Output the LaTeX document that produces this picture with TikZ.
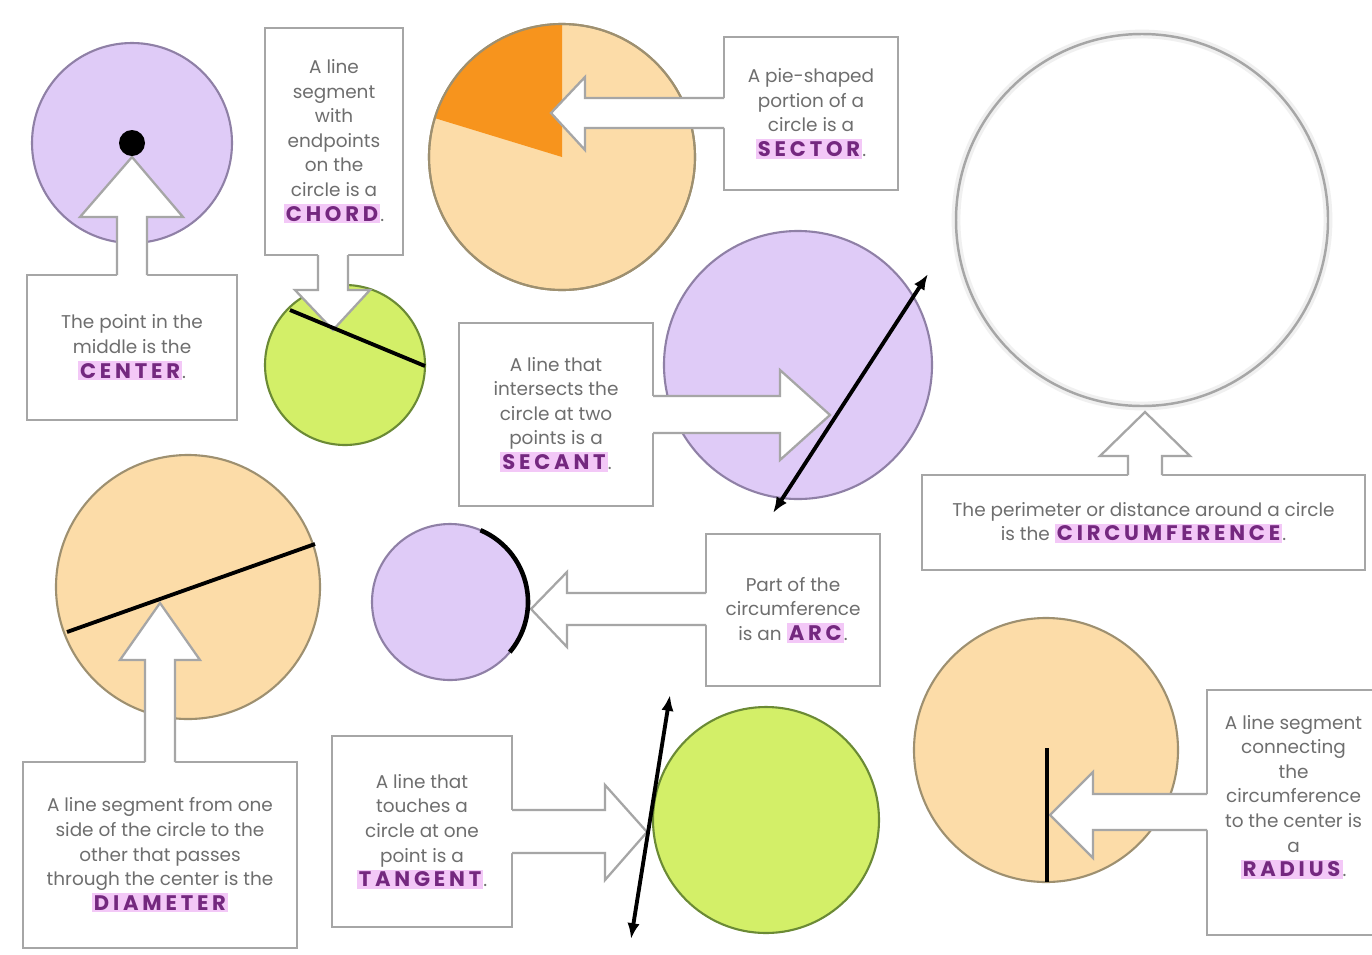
\documentclass[tikz,border=0pt]{standalone}
\usepackage{fontspec}
\usepackage{xcolor}
\usepackage{tikz}
\usetikzlibrary{arrows.meta}
\setmainfont{Poppins}
\newfontfamily\kwfont{Poppins}[LetterSpace=18]

\definecolor{lavender}{HTML}{DFCBF7}
\definecolor{lavenderline}{HTML}{8F80A6}
\definecolor{peach}{HTML}{FCDCA8}
\definecolor{peachline}{HTML}{9E9070}
\definecolor{pieorange}{HTML}{F7941D}
\definecolor{lime}{HTML}{D3EF68}
\definecolor{limeline}{HTML}{6B8A35}
\definecolor{boxgray}{HTML}{A6A6A6}
\definecolor{txtgray}{HTML}{6E6E6E}
\definecolor{kwpink}{HTML}{F3C8F7}
\definecolor{kwpurple}{HTML}{74287F}

\newcommand{\kw}[1]{{\setlength{\fboxsep}{1.2pt}\colorbox{kwpink}{\fontsize{12}{14}\kwfont\bfseries\color{kwpurple}#1}}}

\tikzset{
	infobox/.style={draw=boxgray, line width=1.6pt, fill=white, align=center,
		text=txtgray, font=\fontsize{10.5}{14}\selectfont, inner sep=0pt},
	infotext/.style={align=center, text=txtgray, font=\fontsize{10.5}{14}\selectfont},
	blockarrow/.style={draw=boxgray, line width=1.3pt, line join=miter},
	figline/.style={line width=2.2pt, black},
	purplecirc/.style={fill=lavender, draw=lavenderline, line width=1.2pt},
	peachcirc/.style={fill=peach, draw=peachline, line width=1.2pt},
	limecirc/.style={fill=lime, draw=limeline, line width=1.2pt}
}

\begin{document}
\begin{tikzpicture}[x=0.02cm, y=-0.02cm]

	\useasboundingbox[fill=white] (0,0) rectangle (1372,954);

	% circles
	\coordinate (o1) at (132,143);
	\coordinate (o2) at (345,365);
	\coordinate (o3) at (562,157);
	\coordinate (o4) at (1142,220);
	\coordinate (o5) at (798,365);
	\coordinate (o6) at (188,587);
	\coordinate (o7) at (450,602);
	\coordinate (o8) at (766,820);
	\coordinate (o9) at (1046,750);

	\draw[purplecirc] (o1) circle (100);
	\draw[limecirc] (o2) circle (80);
	\draw[peachcirc] (o3) circle (133);
	\fill[pieorange] (o3) -- ++(0,-133) arc[start angle=-90, end angle=-163, radius=133] -- cycle;
	\draw[peachline, line width=1.2pt] (o3) circle (133);
	\draw[line width=5pt, black!6] (o4) circle (186);
	\draw[line width=1.4pt, boxgray] (o4) circle (186);
	\draw[purplecirc] (o5) circle (134);
	\draw[peachcirc] (o6) circle (132);
	\draw[purplecirc] (o7) circle (78);
	\draw[limecirc] (o8) circle (113);
	\draw[peachcirc] (o9) circle (132);

	% boxes
	\node[infobox, minimum width=4.2cm, minimum height=2.9cm] (centerbox) at (132,347.5)
		{The point in the\\middle is the\\\kw{CENTER}.};
	\node[infobox, minimum width=2.76cm, minimum height=4.54cm] (chordbox) at (334,141.5)
		{A line\\segment\\with\\endpoints\\on the\\circle is a\\\kw{CHORD}.};
	\node[infobox, minimum width=3.48cm, minimum height=3.06cm] (sectorbox) at (811,113.5)
		{A pie-shaped\\portion of a\\circle is a\\\kw{SECTOR}.};
	\node[infobox, minimum width=8.86cm, minimum height=1.9cm] (circbox) at (1143.5,522.5)
		{The perimeter or distance around a circle\\is the \kw{CIRCUMFERENCE}.};
	\node[infobox, minimum width=3.88cm, minimum height=3.66cm] (secantbox) at (556,414.5)
		{A line that\\intersects the\\circle at two\\points is a\\\kw{SECANT}.};
	\node[infobox, minimum width=5.48cm, minimum height=3.72cm] (diambox) at (160,855)
		{A line segment from one\\side of the circle to the\\other that passes\\through the center is the\\\kw{DIAMETER}};
	\node[infobox, minimum width=3.48cm, minimum height=3.04cm] (arcbox) at (793,610)
		{Part of the\\circumference\\is an \kw{ARC}.};
	\node[infobox, minimum width=3.6cm, minimum height=3.82cm] (tanbox) at (422,831.5)
		{A line that\\touches a\\circle at one\\point is a\\\kw{TANGENT}.};
	\node[infobox, minimum width=3.46cm, minimum height=4.9cm] (radbox) at (1293.5,812.5) {};
	\node[infotext] (radtext) at (1293.5,797)
		{A line segment\\connecting\\the\\circumference\\to the center is\\a\\\kw{RADIUS}.};

	% block arrows
	\fill[white] (117,278) -- (117,217) -- (80,217) -- (132,157) -- (183,217) -- (147,217) -- (147,278) -- cycle;
	\draw[blockarrow] (117,275) -- (117,217) -- (80,217) -- (132,157) -- (183,217) -- (147,217) -- (147,275);

	\fill[white] (318,252) -- (318,290) -- (295,290) -- (333,330) -- (370,290) -- (348,290) -- (348,252) -- cycle;
	\draw[blockarrow] (318,255) -- (318,290) -- (295,290) -- (333,330) -- (370,290) -- (348,290) -- (348,255);

	\fill[white] (727,98) -- (585,98) -- (585,77) -- (551,113) -- (585,150) -- (585,128) -- (727,128) -- cycle;
	\draw[blockarrow] (724,98) -- (585,98) -- (585,77) -- (551,113) -- (585,150) -- (585,128) -- (724,128);

	\fill[white] (1128,478) -- (1128,456) -- (1100,456) -- (1145,412) -- (1190,456) -- (1162,456) -- (1162,478) -- cycle;
	\draw[blockarrow] (1128,475) -- (1128,456) -- (1100,456) -- (1145,412) -- (1190,456) -- (1162,456) -- (1162,475);

	\fill[white] (650,396) -- (780,396) -- (780,370) -- (830,415) -- (780,460) -- (780,433) -- (650,433) -- cycle;
	\draw[blockarrow] (653,396) -- (780,396) -- (780,370) -- (830,415) -- (780,460) -- (780,433) -- (653,433);

	\fill[white] (709,593) -- (567,593) -- (567,572) -- (531,609) -- (567,647) -- (567,625) -- (709,625) -- cycle;
	\draw[blockarrow] (706,593) -- (567,593) -- (567,572) -- (531,609) -- (567,647) -- (567,625) -- (706,625);

	\fill[white] (145,765) -- (145,660) -- (120,660) -- (160,603) -- (200,660) -- (175,660) -- (175,765) -- cycle;
	\draw[blockarrow] (145,762) -- (145,660) -- (120,660) -- (160,603) -- (200,660) -- (175,660) -- (175,762);

	\fill[white] (509,810) -- (605,810) -- (605,785) -- (647,832) -- (605,880) -- (605,853) -- (509,853) -- cycle;
	\draw[blockarrow] (512,810) -- (605,810) -- (605,785) -- (647,832) -- (605,880) -- (605,853) -- (512,853);

	\fill[white] (1210,794) -- (1093,794) -- (1093,772) -- (1050,815) -- (1093,858) -- (1093,830) -- (1210,830) -- cycle;
	\draw[blockarrow] (1207,794) -- (1093,794) -- (1093,772) -- (1050,815) -- (1093,858) -- (1093,830) -- (1207,830);

	% segments and lines
	\coordinate (ch1) at (290,310);
	\coordinate (ch2) at (425,366);
	\draw[figline] (ch1) -- (ch2);

	\coordinate (d1) at (67,632);
	\coordinate (d2) at (315,544);
	\draw[figline] (d1) -- (d2);

	\coordinate (s1) at (773,513);
	\coordinate (s2) at (928,274);
	\draw[figline, {Latex[length=9pt,width=7pt]}-{Latex[length=9pt,width=7pt]}] (s1) -- (s2);

	\coordinate (t1) at (631,939);
	\coordinate (t2) at (670,695);
	\draw[figline, {Latex[length=9pt,width=7pt]}-{Latex[length=9pt,width=7pt]}] (t1) -- (t2);

	\draw[line width=2.6pt, black] (o7) ++(-67:78) arc[start angle=-67, end angle=40, radius=78];

	\coordinate (r1) at (1047,748);
	\coordinate (r2) at (1047,882);
	\draw[figline] (r1) -- (r2);

	\fill[black] (o1) circle (13);

\end{tikzpicture}
\end{document}
